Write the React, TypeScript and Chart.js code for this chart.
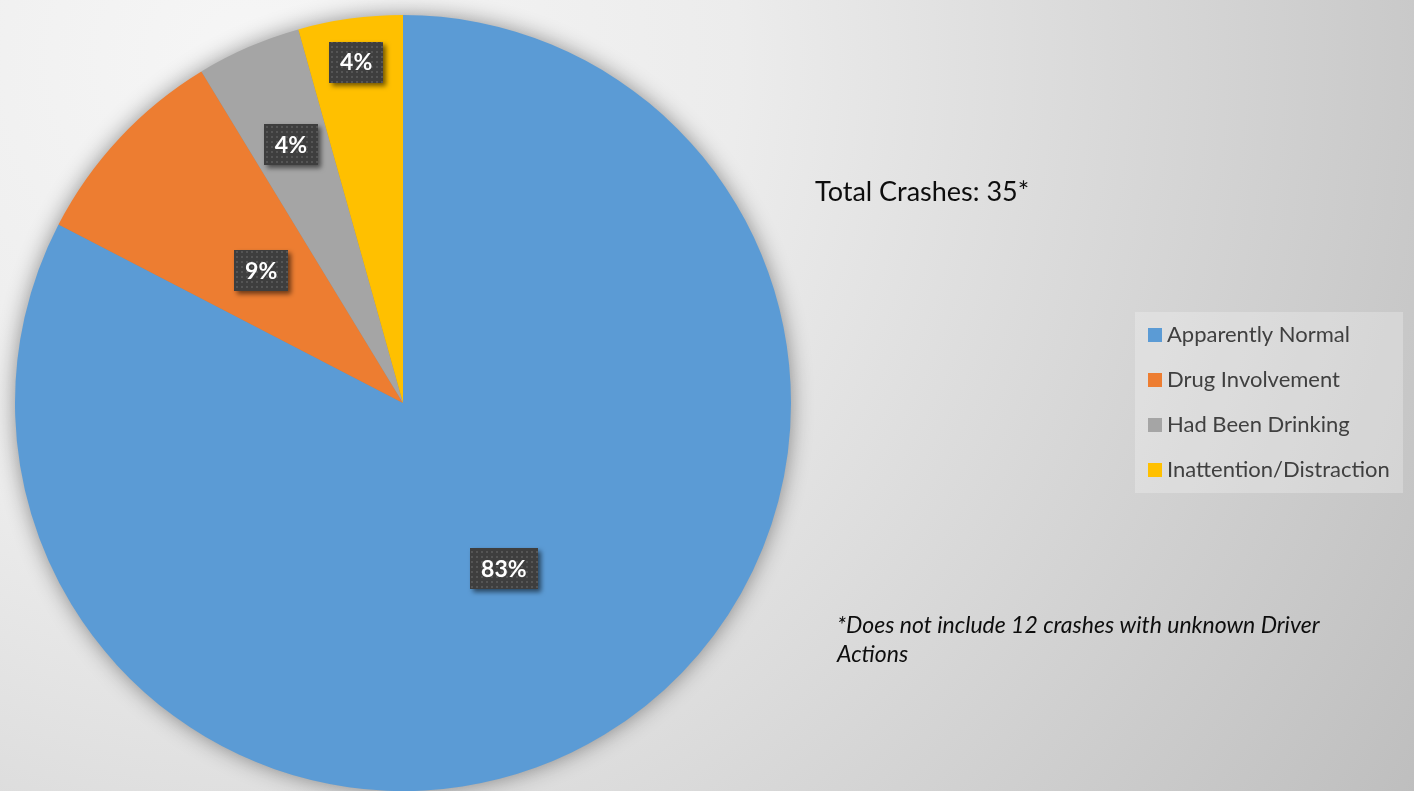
import React, { useEffect, useRef } from "react";
import { Chart, registerables } from "chart.js";
Chart.register(...registerables);

const categories = ["Apparently Normal", "Drug Involvement", "Had Been Drinking", "Inattention/Distraction"];
const crashCounts = [19, 2, 1, 1];
const sliceColors = ["#5B9BD5", "#ED7D31", "#A5A5A5", "#FFC000"];
const titleText = "Total Crashes: 35*";
const footnoteLines = ["*Does not include 12 crashes with unknown Driver", "Actions"];
const labelRadialFractions = [0.5, 0.5, 0.725, 0.887];

const FONT = "Lato, 'Open Sans', sans-serif";

function makeDotPattern(ctx: CanvasRenderingContext2D) {
  const p = document.createElement("canvas");
  p.width = 5;
  p.height = 5;
  const c = p.getContext("2d")!;
  c.fillStyle = "#3e3e3e";
  c.fillRect(0, 0, 5, 5);
  c.fillStyle = "#555555";
  c.fillRect(1, 1, 2, 2);
  return ctx.createPattern(p, "repeat");
}

const decorPlugin = {
  id: "decor",
  beforeDraw(chart: any) {
    const ctx = chart.ctx as CanvasRenderingContext2D;
    const w = chart.width, h = chart.height;
    ctx.save();
    const g = ctx.createRadialGradient(250, 60, 0, 250, 60, 1400);
    g.addColorStop(0, "#f6f6f6");
    g.addColorStop(0.35, "#ececec");
    g.addColorStop(1, "#bdbdbd");
    ctx.fillStyle = g;
    ctx.fillRect(0, 0, w, h);
    ctx.restore();
  },
  beforeDatasetsDraw(chart: any) {
    const ctx = chart.ctx as CanvasRenderingContext2D;
    const arc = chart.getDatasetMeta(0).data[0];
    if (!arc) return;
    ctx.save();
    ctx.shadowColor = "rgba(0,0,0,0.45)";
    ctx.shadowBlur = 22;
    ctx.shadowOffsetX = 0;
    ctx.shadowOffsetY = 0;
    ctx.fillStyle = "#888";
    ctx.beginPath();
    ctx.arc(arc.x, arc.y, arc.outerRadius - 1, 0, Math.PI * 2);
    ctx.fill();
    ctx.restore();
  },
  afterDatasetsDraw(chart: any) {
    const ctx = chart.ctx as CanvasRenderingContext2D;
    const meta = chart.getDatasetMeta(0);
    const data = chart.data.datasets[0].data as number[];
    const total = data.reduce((a, b) => a + b, 0);
    const pattern = makeDotPattern(ctx);
    meta.data.forEach((arc: any, i: number) => {
      const mid = (arc.startAngle + arc.endAngle) / 2;
      const r = arc.outerRadius * labelRadialFractions[i];
      const x = arc.x + Math.cos(mid) * r;
      const y = arc.y + Math.sin(mid) * r;
      const text = Math.round((data[i] / total) * 100) + "%";
      ctx.save();
      ctx.font = `bold 23px ${FONT}`;
      const tw = ctx.measureText(text).width;
      const bw = tw + 22, bh = 41;
      ctx.shadowColor = "rgba(0,0,0,0.55)";
      ctx.shadowBlur = 5;
      ctx.shadowOffsetX = 3;
      ctx.shadowOffsetY = 3;
      ctx.fillStyle = pattern || "#404040";
      ctx.fillRect(Math.round(x - bw / 2), Math.round(y - bh / 2), Math.round(bw), bh);
      ctx.shadowColor = "transparent";
      ctx.fillStyle = "#ffffff";
      ctx.textAlign = "center";
      ctx.textBaseline = "middle";
      ctx.fillText(text, x, y + 1);
      ctx.restore();
    });
  },
  afterDraw(chart: any) {
    const ctx = chart.ctx as CanvasRenderingContext2D;
    ctx.save();
    // title
    ctx.fillStyle = "#0d0d0d";
    ctx.font = `27px ${FONT}`;
    ctx.textBaseline = "alphabetic";
    ctx.textAlign = "left";
    ctx.fillText(titleText, 815, 201);

    // legend box
    ctx.fillStyle = "rgba(255,255,255,0.25)";
    ctx.fillRect(1135, 312, 268, 181);
    const labels = chart.data.labels as string[];
    const colors = chart.data.datasets[0].backgroundColor as string[];
    ctx.font = `22px ${FONT}`;
    labels.forEach((lab, i) => {
      const cy = 335 + i * 45;
      ctx.fillStyle = colors[i];
      ctx.fillRect(1148, cy - 7, 14, 14);
      ctx.fillStyle = "#404040";
      ctx.textBaseline = "middle";
      ctx.fillText(lab, 1167, cy);
    });

    // footnote
    ctx.fillStyle = "#0d0d0d";
    ctx.font = `italic 23px ${FONT}`;
    ctx.textBaseline = "alphabetic";
    footnoteLines.forEach((line, i) => {
      ctx.fillText(line, 837, 633 + i * 29);
    });
    ctx.restore();
  },
};

export default function App() {
  const ref = useRef<HTMLCanvasElement>(null);
  useEffect(() => {
    document.body.style.margin = "0";
    const chart = new Chart(ref.current!, {
      type: "pie",
      data: {
        labels: categories,
        datasets: [
          {
            data: crashCounts,
            backgroundColor: sliceColors,
            borderWidth: 0,
          },
        ],
      },
      options: {
        responsive: false,
        animation: false,
        layout: { padding: { left: 15, top: 15, right: 623, bottom: 0 } },
        plugins: {
          legend: { display: false },
          tooltip: { enabled: false },
          title: { display: false },
        },
      },
      plugins: [decorPlugin],
    });
    return () => chart.destroy();
  }, []);
  return (
    <div style={{ width: 1414, height: 791 }}>
      <canvas ref={ref} width={1414} height={791} />
    </div>
  );
}
